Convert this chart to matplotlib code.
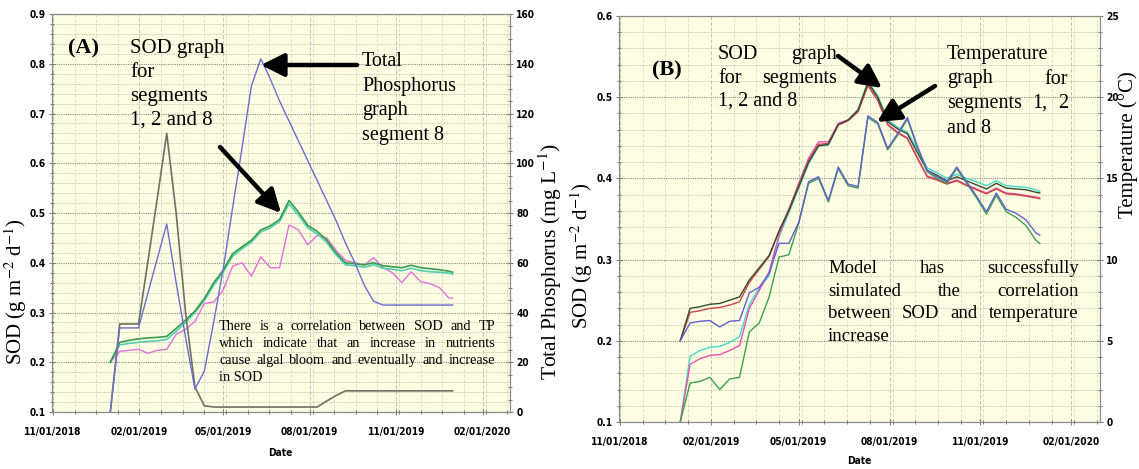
import numpy as np
import pandas as pd
import matplotlib
matplotlib.use('Agg')
import matplotlib.pyplot as plt
import matplotlib.dates as mdates
from matplotlib.ticker import MultipleLocator, AutoMinorLocator

W, H = 1139, 469
BG = '#fdfde2'
SERIF = 'Liberation Serif'
TICKFONT = ['Liberation Sans Narrow', 'DejaVu Sans']
plt.rcParams['mathtext.fontset'] = 'stix'

# model output every 10 days, last step on 31 Dec 2019
dates = list(pd.date_range('2019-01-01', periods=37, freq='10D')) + [pd.Timestamp('2019-12-31')]

xtick_dates = ['2018-11-01', '2019-02-01', '2019-05-01', '2019-08-01', '2019-11-01', '2020-02-01']
xtick_labels = ['11/01/2018', '02/01/2019', '05/01/2019', '08/01/2019', '11/01/2019', '02/01/2020']

# ---- panel A : SOD (left axis) and total phosphorus (right axis)
sod_a_green = [0.200, 0.240, 0.244, 0.247, 0.249, 0.250, 0.252, 0.268, 0.285, 0.303, 0.328, 0.360, 0.385,
               0.418, 0.432, 0.445, 0.466, 0.474, 0.487, 0.525, 0.502, 0.475, 0.463, 0.446, 0.420, 0.400,
               0.398, 0.396, 0.400, 0.394, 0.392, 0.390, 0.395, 0.390, 0.388, 0.386, 0.383, 0.381]
sod_a_teal = [0.200, 0.235, 0.238, 0.240, 0.242, 0.243, 0.246, 0.262, 0.280, 0.300, 0.324, 0.355, 0.381,
              0.413, 0.428, 0.441, 0.462, 0.470, 0.483, 0.518, 0.496, 0.470, 0.458, 0.441, 0.416, 0.396,
              0.394, 0.391, 0.396, 0.389, 0.387, 0.384, 0.389, 0.384, 0.382, 0.381, 0.379, 0.377]
sod_a_pink = [0.200, 0.222, 0.224, 0.226, 0.218, 0.224, 0.226, 0.256, 0.266, 0.282, 0.318, 0.321, 0.345,
              0.393, 0.400, 0.373, 0.412, 0.390, 0.390, 0.476, 0.466, 0.436, 0.455, 0.450, 0.425, 0.405,
              0.400, 0.395, 0.410, 0.390, 0.380, 0.360, 0.382, 0.362, 0.358, 0.350, 0.329, 0.329]
tp_a_seg8 = [0, 33.8, 33.8, 33.8, 47.8, 61.8, 75.6, 52, 30, 9.2, 16.5, 36.3, 57.3,
             82, 106, 131, 142, 134, 125, 117, 109, 101, 93, 85, 77, 68,
             60, 51, 44.5, 43, 43, 43, 43, 43, 43, 43, 43, 43]
tp_a_gray = [0, 35.4, 35.4, 35.4, 60.6, 86, 112, 80, 40, 10, 2.5, 2, 2,
             2, 2, 2, 2, 2, 2, 2, 2, 2, 2, 4.4, 6.6, 8.5,
             8.5, 8.5, 8.5, 8.5, 8.5, 8.5, 8.5, 8.5, 8.5, 8.5, 8.5, 8.5]

# ---- panel B : SOD (left axis) and temperature (right axis)
sod_b_dark = [0.200, 0.240, 0.242, 0.245, 0.246, 0.250, 0.254, 0.275, 0.290, 0.305, 0.335, 0.360, 0.390,
              0.420, 0.440, 0.442, 0.466, 0.472, 0.484, 0.518, 0.500, 0.470, 0.461, 0.455, 0.432, 0.410,
              0.404, 0.397, 0.402, 0.397, 0.392, 0.387, 0.394, 0.388, 0.387, 0.386, 0.383, 0.382]
sod_b_red = [0.200, 0.235, 0.237, 0.240, 0.241, 0.244, 0.248, 0.272, 0.288, 0.304, 0.335, 0.362, 0.392,
             0.422, 0.442, 0.443, 0.466, 0.471, 0.482, 0.514, 0.496, 0.466, 0.456, 0.449, 0.425, 0.402,
             0.398, 0.393, 0.397, 0.391, 0.386, 0.381, 0.387, 0.381, 0.380, 0.378, 0.376, 0.375]
sod_b_pink = [0.100, 0.171, 0.178, 0.182, 0.183, 0.188, 0.194, 0.240, 0.262, 0.285, 0.330, 0.362, 0.394,
              0.425, 0.445, 0.445, 0.468, 0.472, 0.483, 0.515, 0.497, 0.467, 0.457, 0.450, 0.426, 0.403,
              0.399, 0.394, 0.398, 0.392, 0.387, 0.382, 0.388, 0.382, 0.381, 0.379, 0.377, 0.376]
sod_b_cyan = [0.100, 0.181, 0.188, 0.192, 0.193, 0.198, 0.205, 0.245, 0.265, 0.280, 0.328, 0.358, 0.388,
              0.418, 0.440, 0.441, 0.466, 0.472, 0.485, 0.519, 0.502, 0.472, 0.463, 0.457, 0.436, 0.413,
              0.407, 0.400, 0.405, 0.400, 0.396, 0.391, 0.397, 0.391, 0.390, 0.389, 0.386, 0.384]
temp_b_blue = [5.0, 6.1, 6.2, 6.25, 5.85, 6.2, 6.25, 7.95, 8.3, 9.15, 11.0, 11.0, 12.3,
               14.8, 15.1, 13.65, 15.7, 14.65, 14.5, 18.85, 18.45, 16.85, 17.75, 18.75, 17.0, 15.5,
               15.1, 14.8, 15.7, 14.8, 13.9, 12.95, 14.1, 13.1, 12.85, 12.45, 11.65, 11.5]
temp_b_green = [0.0, 2.4, 2.5, 2.75, 2.0, 2.65, 2.75, 5.55, 6.1, 7.7, 10.15, 10.3, 12.25,
                14.7, 15.0, 13.55, 15.6, 14.55, 14.4, 18.75, 18.35, 16.75, 17.65, 18.65, 16.9, 15.4,
                15.0, 14.7, 15.6, 14.7, 13.8, 12.8, 13.95, 12.95, 12.6, 12.1, 11.2, 11.0]

fig = plt.figure(figsize=(W / 100, H / 100), dpi=100)
TICKKW = dict(family=TICKFONT, fontweight='bold', fontsize=7.3, fontstretch='condensed')


def frac(x, y):
    return x / W, 1 - y / H


def style_axes(ax, twin, yticks, yminor, rticks, rminor):
    ax.set_facecolor(BG)
    ax.set_xlim(pd.Timestamp('2018-10-31'), pd.Timestamp('2020-03-01'))
    ax.set_xticks(mdates.date2num(pd.to_datetime(xtick_dates)))
    ax.set_xticklabels(xtick_labels, **TICKKW)
    ax.xaxis.set_minor_locator(AutoMinorLocator(4))
    ax.set_ylim(yticks[0], yticks[-1])
    ax.set_yticks(yticks)
    ax.set_yticklabels(['%.1f' % v for v in yticks], **TICKKW)
    ax.yaxis.set_minor_locator(MultipleLocator(yminor))
    twin.set_ylim(rticks[0], rticks[-1])
    twin.set_yticks(rticks)
    twin.set_yticklabels(['%d' % v for v in rticks], **TICKKW)
    twin.yaxis.set_minor_locator(MultipleLocator(rminor))
    ax.tick_params(which='both', direction='inout', color='#606060', width=0.6, pad=2)
    ax.tick_params(which='major', length=5)
    ax.tick_params(which='minor', length=3)
    ax.tick_params(axis='x', which='major', pad=8)
    twin.tick_params(which='both', direction='inout', color='#606060', width=0.6, pad=2)
    twin.tick_params(which='major', length=5)
    twin.tick_params(which='minor', length=3)
    ax.xaxis.grid(True, which='major', ls=(0, (4, 2)), color='#c4c4b6', lw=0.7)
    ax.xaxis.grid(True, which='minor', ls=(0, (4, 2)), color='#dadaca', lw=0.6)
    ax.yaxis.grid(True, which='major', ls=(0, (1, 1)), color='#8c8c88', lw=0.8)
    ax.yaxis.grid(True, which='minor', ls=(0, (1, 1)), color='#bcbcaa', lw=0.6)
    ax.set_axisbelow(True)
    for a in (ax, twin):
        for s in a.spines.values():
            s.set_color('#8a8a8a')
            s.set_linewidth(0.8)


def stacked(lines, x0, y0, dy, size, **kw):
    for i, line in enumerate(lines):
        fig.text(*frac(x0, y0 + i * dy), line, family=SERIF, fontsize=size, va='baseline', **kw)


def justified(lines, x0, x1, y0, dy, size):
    r = fig.canvas.get_renderer()
    for i, line in enumerate(lines):
        yy = 1 - (y0 + i * dy) / H
        words = line.split()
        if i == len(lines) - 1 or len(words) == 1:
            fig.text(x0 / W, yy, line, family=SERIF, fontsize=size, va='baseline')
            continue
        ts = [fig.text(0, yy, w, family=SERIF, fontsize=size, va='baseline') for w in words]
        ws = [t.get_window_extent(r).width for t in ts]
        gap = (x1 - x0 - sum(ws)) / (len(words) - 1)
        x = x0
        for t, w in zip(ts, ws):
            t.set_x(x / W)
            x += w + gap


def arrow(tail, tip):
    fig.add_artist(matplotlib.patches.FancyArrowPatch(
        frac(*tail), frac(*tip), transform=fig.transFigure,
        arrowstyle='-|>,head_length=1.4,head_width=0.7', mutation_scale=10,
        lw=3.2, color='black', shrinkA=0, shrinkB=0))


# ================= panel A
axA = fig.add_axes([52 / W, 1 - 412 / H, 458 / W, 398 / H])
twA = axA.twinx()
style_axes(axA, twA, [0.1, 0.2, 0.3, 0.4, 0.5, 0.6, 0.7, 0.8, 0.9], 0.02,
           [0, 20, 40, 60, 80, 100, 120, 140, 160], 5)

axA.plot(dates, sod_a_pink, color='#e070d8', lw=1.0)
axA.plot(dates, sod_a_teal, color='#50d0b0', lw=1.2)
axA.plot(dates, sod_a_green, color='#3a9a50', lw=1.2)
twA.plot(dates, tp_a_gray, color='#707062', lw=1.2)
twA.plot(dates, tp_a_seg8, color='#6c6cd0', lw=1.0)

fig.text(*frac(16, 292), 'SOD (g m$^{-2}$ d$^{-1}$)', rotation=90, family=SERIF,
         fontsize=15, ha='center', va='center')
fig.text(*frac(550, 261), 'Total Phosphorus (mg L$^{-1}$)', rotation=90, family=SERIF,
         fontsize=15.5, ha='center', va='center')
fig.text(*frac(280, 453), 'Date', ha='center', va='center', **TICKKW)

fig.text(*frac(68, 53), '(A)', family=SERIF, fontweight='bold', fontsize=16, va='baseline')
stacked(['SOD graph', 'for', 'segments', '1, 2 and 8'], 130, 53, 24, 15)
stacked(['Total', 'Phosphorus', 'graph', 'segment 8'], 362, 66, 24.6, 14.5)
justified(['There is a correlation between SOD and TP',
           'which indicate that an increase in nutrients',
           'cause algal bloom and eventually and increase',
           'in SOD'], 219, 495, 330, 17, 10.3)
arrow((357, 65), (261, 65))
arrow((220, 147), (281, 213))

# ================= panel B
axB = fig.add_axes([619 / W, 1 - 422 / H, 481 / W, 406 / H])
twB = axB.twinx()
style_axes(axB, twB, [0.1, 0.2, 0.3, 0.4, 0.5, 0.6], 0.02, [0, 5, 10, 15, 20, 25], 1)

twB.plot(dates, temp_b_green, color='#40a048', lw=1.0)
twB.plot(dates, temp_b_blue, color='#6060d0', lw=1.0)
axB.plot(dates, sod_b_cyan, color='#40d8c8', lw=1.0)
axB.plot(dates, sod_b_pink, color='#e850b0', lw=1.0)
axB.plot(dates, sod_b_red, color='#c84848', lw=1.0)
axB.plot(dates, sod_b_dark, color='#3a4a30', lw=1.0)

fig.text(*frac(582, 256), 'SOD (g m$^{-2}$ d$^{-1}$)', rotation=90, family=SERIF,
         fontsize=15, ha='center', va='center')
fig.text(*frac(1128, 145), 'Temperature (°C)', rotation=90, family=SERIF,
         fontsize=15, ha='center', va='center')
fig.text(*frac(859, 461), 'Date', ha='center', va='center', **TICKKW)

fig.text(*frac(652, 75), '(B)', family=SERIF, fontweight='bold', fontsize=16, va='baseline')
justified(['SOD graph', 'for segments', '1, 2 and 8'], 718, 837, 59, 23.5, 14.5)
justified(['Temperature', 'graph for', 'segments 1, 2', 'and 8'], 947, 1068, 59, 24.5, 14.5)
justified(['Model has successfully',
           'simulated the correlation',
           'between SOD and temperature',
           'increase'], 828, 1079, 273, 22.5, 13.5)
arrow((838, 56), (882, 88))
arrow((935, 86), (877, 122))

fig.savefig('out.png', dpi=100)
